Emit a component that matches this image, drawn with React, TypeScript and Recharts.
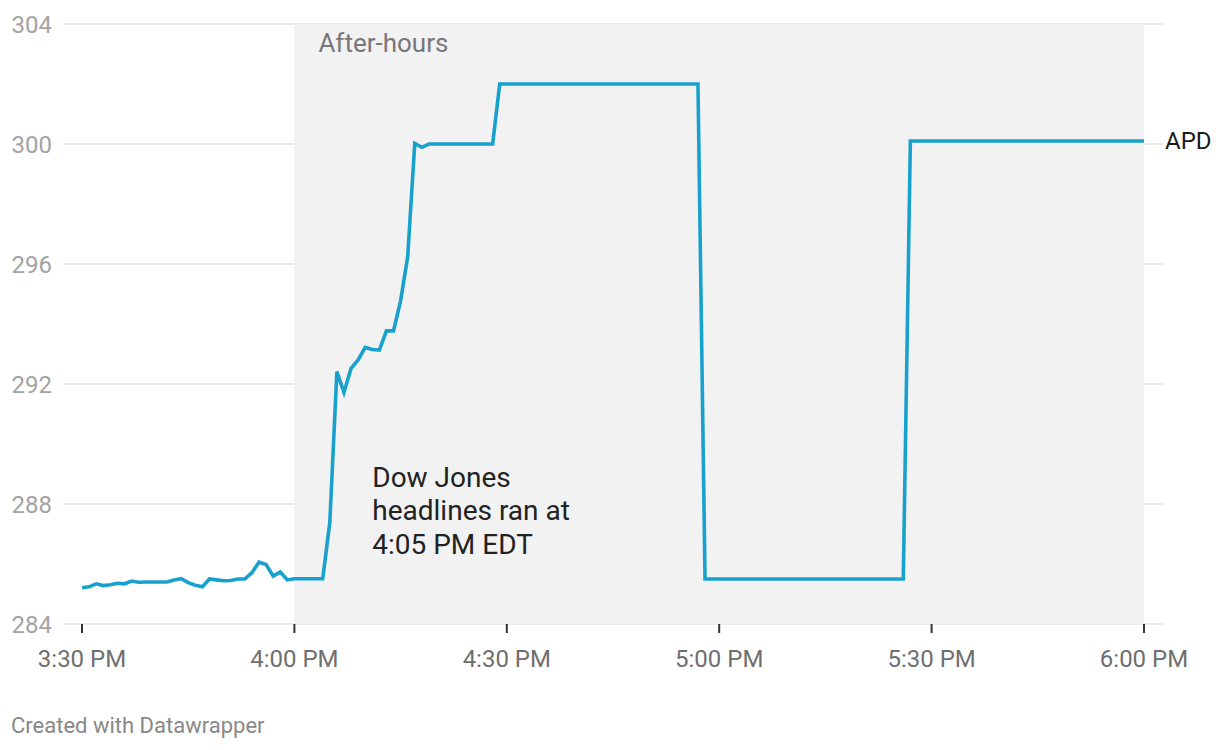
import {
  CartesianGrid,
  Label,
  Line,
  LineChart,
  ReferenceArea,
  ReferenceDot,
  XAxis,
  YAxis
} from "recharts";

// minutes after 3:30 PM EDT
const minutes = [
  0, 1, 2, 3, 4, 5, 6, 7, 8, 9, 10, 11, 12, 13, 14, 15, 16, 17, 18, 19, 20, 21, 22, 23, 24, 25,
  26, 27, 28, 29, 30, 34, 35, 36, 37, 38, 39, 40, 41, 42, 43, 44, 45, 46, 47, 48, 49, 58, 59, 87,
  88, 116, 117, 150
];
const prices = [
  285.21, 285.24, 285.34, 285.28, 285.31, 285.36, 285.34, 285.43, 285.39, 285.4, 285.4, 285.4,
  285.4, 285.47, 285.51, 285.38, 285.29, 285.24, 285.5, 285.47, 285.44, 285.45, 285.5, 285.5,
  285.71, 286.06, 285.98, 285.6, 285.73, 285.47, 285.51, 285.51, 287.38, 292.41, 291.72, 292.52,
  292.8, 293.22, 293.15, 293.13, 293.77, 293.77, 294.77, 296.24, 300.02, 299.89, 300.0, 300.0,
  302.0, 302.0, 285.5, 285.5, 300.1, 300.1
];
const xTicks = [0, 30, 60, 90, 120, 150];
const yTicks = [284, 288, 292, 296, 300, 304];
const afterHoursStart = 30;
const ticker = "APD";
const annotation = ["Dow Jones", "headlines ran at", "4:05 PM EDT"];
const annotationAt = { minute: 41, price: 288.57 };

const font = "Roboto, 'Noto Sans', sans-serif";

const chartData = minutes.map((m, i) => ({ m, price: prices[i] }));

function formatTime(m: number) {
  const total = 15 * 60 + 30 + m;
  const h = Math.floor(total / 60) - 12;
  const mm = total % 60;
  return `${h}:${mm.toString().padStart(2, "0")} PM`;
}

export default function App() {
  const last = chartData.length - 1;

  return (
    <div style={{ position: "relative", width: 1220, height: 750, fontFamily: font, background: "#fff" }}>
      <style>{`body{margin:0}`}</style>
      <LineChart
        width={1220}
        height={750}
        data={chartData}
        margin={{ top: 24, right: 57, left: 0, bottom: 86 }}
      >
        <ReferenceArea
          x1={afterHoursStart}
          x2={150}
          y1={284}
          y2={304}
          fill="#f2f2f2"
          fillOpacity={1}
          stroke="none"
          ifOverflow="visible"
        >
          <Label
            content={({ viewBox }: any) => (
              <text
                x={viewBox.x + 24}
                y={viewBox.y + 28}
                fill="#777"
                fontSize={26}
                fontFamily={font}
              >
                After-hours
              </text>
            )}
          />
        </ReferenceArea>
        <CartesianGrid vertical={false} stroke="#e4e4e4" strokeWidth={1.5} />
        <XAxis
          dataKey="m"
          type="number"
          domain={[0, 150]}
          ticks={xTicks}
          tickFormatter={formatTime}
          padding={{ left: 19, right: 19 }}
          axisLine={false}
          tickLine={{ stroke: "#333", strokeWidth: 2 }}
          tickSize={9}
          tickMargin={17}
          height={40}
          tick={{ fill: "#6f6f6f", fontSize: 24, fontFamily: font }}
        />
        <YAxis
          domain={[284, 304]}
          ticks={yTicks}
          axisLine={false}
          tickLine={false}
          width={63}
          tickMargin={5}
          tick={{ fill: "#a3a3a3", fontSize: 24, fontFamily: font }}
        />
        <ReferenceDot
          x={annotationAt.minute}
          y={annotationAt.price}
          r={0}
          fill="none"
          stroke="none"
        >
          <Label
            content={({ viewBox }: any) => (
              <text x={viewBox.x} y={viewBox.y} fill="#222" fontSize={28} fontFamily={font}>
                {annotation.map((t, i) => (
                  <tspan key={t} x={viewBox.x} dy={i === 0 ? 0 : 33.5}>
                    {t}
                  </tspan>
                ))}
              </text>
            )}
          />
        </ReferenceDot>
        <Line
          type="linear"
          dataKey="price"
          stroke="#18a1cd"
          strokeWidth={3.6}
          dot={false}
          activeDot={false}
          isAnimationActive={false}
          label={({ x, y, index }: any) =>
            index === last ? (
              <text key="apd" x={x + 21} y={y + 8} fill="#1a1a1a" fontSize={24} fontFamily={font}>
                {ticker}
              </text>
            ) : (
              <g key={index} />
            )
          }
        />
      </LineChart>
      <div
        style={{
          position: "absolute",
          left: 11,
          top: 713,
          fontSize: 22,
          color: "#888",
          fontFamily: font
        }}
      >
        Created with Datawrapper
      </div>
    </div>
  );
}
